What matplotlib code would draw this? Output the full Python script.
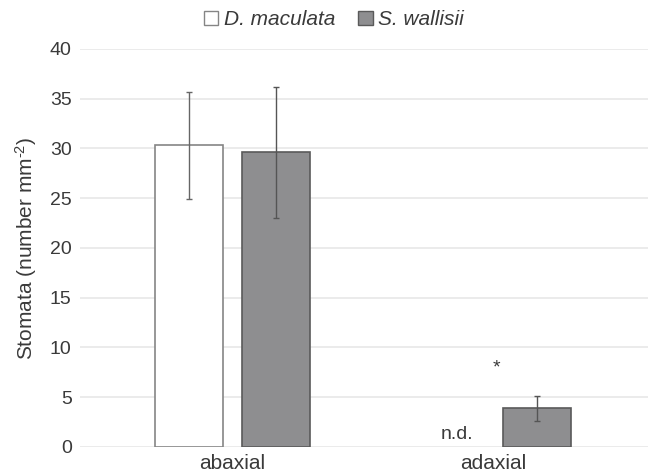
import matplotlib
matplotlib.use("Agg")
import matplotlib.pyplot as plt
import numpy as np

plt.rcParams['font.family'] = ['Liberation Sans', 'DejaVu Sans']
plt.rcParams['mathtext.fontset'] = 'custom'
plt.rcParams['mathtext.rm'] = 'Liberation Sans'
plt.rcParams['mathtext.it'] = 'Liberation Sans:italic'

categories = ["abaxial", "adaxial"]
series_names = ["D. maculata", "S. wallisii"]
d_mac = [30.3, np.nan]
d_mac_err_low = [5.4, np.nan]
d_mac_err_high = [5.4, np.nan]
s_wal = [29.6, 3.9]
s_wal_err_low = [6.6, 1.3]
s_wal_err_high = [6.6, 1.2]
yticks = [0, 5, 10, 15, 20, 25, 30, 35, 40]

fig = plt.figure(figsize=(6.48, 4.75), dpi=100)
ax = fig.add_axes([0.1235, 0.059, 0.8765, 0.838])

x = np.arange(len(categories))
w = 0.262
off = 0.166
txt = "#3a3a3a"
ax.bar(x - off, d_mac, w, color="white", edgecolor="#858585", linewidth=1.2, zorder=3, label=series_names[0])
ax.bar(x + off, s_wal, w, color="#8e8e90", edgecolor="#5a5a5a", linewidth=1.2, zorder=3, label=series_names[1])
ax.errorbar(x - off, d_mac, yerr=[d_mac_err_low, d_mac_err_high], fmt="none", ecolor="#666666",
            elinewidth=1.0, capsize=2, capthick=1.0, zorder=4)
ax.errorbar(x + off, s_wal, yerr=[s_wal_err_low, s_wal_err_high], fmt="none", ecolor="#555555",
            elinewidth=1.0, capsize=2, capthick=1.0, zorder=4)

ax.text(1 - off + 0.025, 0.35, "n.d.", ha="center", va="bottom", fontsize=14, color=txt)
ax.text(1.01, 7.1, "*", ha="center", va="bottom", fontsize=14, color=txt)

ax.set_ylim(0, 40)
ax.set_xlim(-0.584, 1.592)
ax.set_yticks(yticks)
ax.set_xticks(x)
ax.set_xticklabels(categories, fontsize=15, color=txt)
ax.tick_params(axis="y", labelsize=14, colors=txt, length=0, pad=6)
ax.tick_params(axis="x", length=0, pad=5)
ax.grid(axis="y", color="#e8e8e8", linewidth=1.2, zorder=0)
for s in ["top", "right", "left", "bottom"]:
    ax.spines[s].set_visible(False)
ax.set_ylabel("Stomata (number mm$^{\u20102}$)", fontsize=15, color=txt)
ax.yaxis.set_label_coords(-0.072, 0.5)

leg = fig.legend(loc="center", bbox_to_anchor=(0.515, 0.958), ncol=2, frameon=False,
                 handlelength=0.7, handleheight=0.7, handletextpad=0.25, columnspacing=1.1,
                 prop={"style": "italic", "size": 15})
for t in leg.get_texts():
    t.set_color(txt)
for h in leg.legend_handles:
    h.set_linewidth(1.0)

fig.savefig("out.png", dpi=100)
